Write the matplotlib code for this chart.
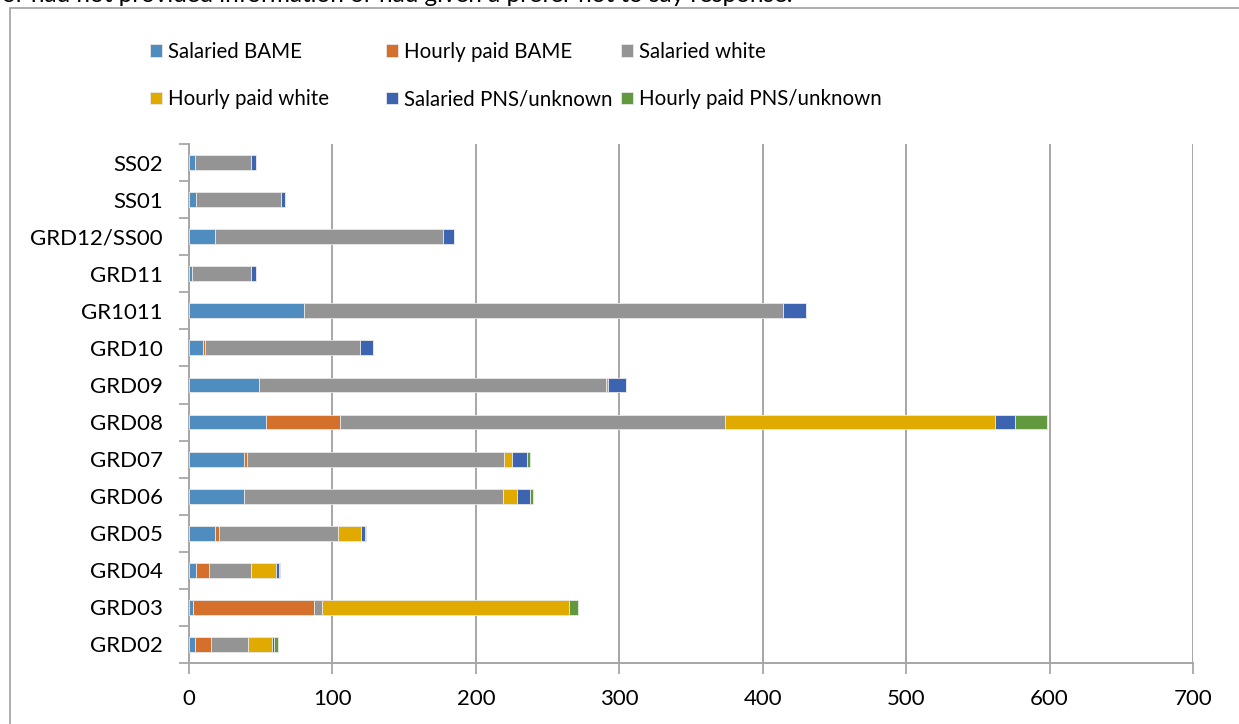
import matplotlib.pyplot as plt
import numpy as np
from matplotlib.patches import Rectangle

plt.rcParams['font.family'] = ['Lato', 'DejaVu Sans']

# grades, bottom to top
grades = ['GRD02', 'GRD03', 'GRD04', 'GRD05', 'GRD06', 'GRD07', 'GRD08',
          'GRD09', 'GRD10', 'GR1011', 'GRD11', 'GRD12/SS00', 'SS01', 'SS02']

salaried_bame = [4, 3, 5, 18, 38, 38.5, 54, 49, 10, 80, 2, 18, 5, 4]
hourly_bame = [11, 84, 9, 3, 0, 2, 51, 0, 1, 0, 0, 0, 0, 0]
salaried_white = [26, 6, 29, 83, 181, 179, 269, 242, 108, 334, 41, 159, 59, 39]
hourly_white = [17, 172, 18, 16, 10, 6, 188, 1, 0, 0, 0, 0, 0, 0]
salaried_pns = [1, 0, 1.5, 3, 9, 10, 14, 13, 9.5, 16, 4, 8, 3, 4]
hourly_pns = [3, 6, 1, 0.5, 2, 2, 22, 0, 0, 0, 0, 0, 0, 0]

series = [salaried_bame, hourly_bame, salaried_white,
          hourly_white, salaried_pns, hourly_pns]
names = ['Salaried BAME', 'Hourly paid BAME', 'Salaried white',
         'Hourly paid white', 'Salaried PNS/unknown', 'Hourly paid PNS/unknown']
colors = ['#4F8CC0', '#D4702C', '#949494', '#E0AA00', '#3C64B0', '#62993E']

W, H = 1239, 724
fig = plt.figure(figsize=(W / 100, H / 100), dpi=100)
ax = fig.add_axes([189 / W, 1 - 663 / H, (1193 - 189) / W, (663 - 144) / H])

y = np.arange(len(grades))
left = np.zeros(len(grades))
handles = []
for vals, name, col in zip(series, names, colors):
    b = ax.barh(y, vals, left=left, height=0.4, color=col,
                edgecolor='#E8E8E8', linewidth=0.6, label=name, zorder=3)
    handles.append(b)
    left += np.array(vals)

ax.set_xlim(0, 700)
ax.set_ylim(-0.5, len(grades) - 0.5)
ax.set_xticks(np.arange(0, 701, 100))
ax.set_yticks(y)
ax.set_yticklabels(grades)
# tick marks sit between categories on the y axis
ax.set_yticks(np.arange(-0.5, len(grades), 1), minor=True)
ax.tick_params(axis='y', which='major', length=0, pad=19, labelsize=16)
ax.tick_params(axis='y', which='minor', length=7, color='#A0A0A0', width=1.2)
ax.tick_params(axis='x', which='major', length=8, color='#A0A0A0', width=1.2,
               pad=11, labelsize=16)

ax.grid(axis='x', color='#A6A6A6', linewidth=1.4, zorder=0)
for s in ['top', 'right']:
    ax.spines[s].set_visible(False)
for s in ['left', 'bottom']:
    ax.spines[s].set_color('#A6A6A6')
    ax.spines[s].set_linewidth(1.4)

# legend: three columns, two rows, laid out row by row
col_x = [150, 386, 621]
for c in range(3):
    fig.legend([handles[c], handles[c + 3]], [names[c], names[c + 3]],
               loc='upper left', bbox_to_anchor=(col_x[c] / W, 1 - 42 / H),
               frameon=False, fontsize=14.8, handlelength=0.57,
               handleheight=0.57, handletextpad=0.3, labelspacing=1.33,
               borderpad=0, borderaxespad=0)

# outer chart frame
fig.patches.append(Rectangle((10 / W, -0.1), 1.2, 1 - 8 / H + 0.1,
                             transform=fig.transFigure, fill=False,
                             edgecolor='#A0A0A0', linewidth=1.2))
fig.text(2 / W, 1 - 1.5 / H,
         'or had not provided information or had given a prefer not to say response.',
         fontsize=17.5, va='baseline', ha='left')

fig.savefig('out.png', dpi=100)
